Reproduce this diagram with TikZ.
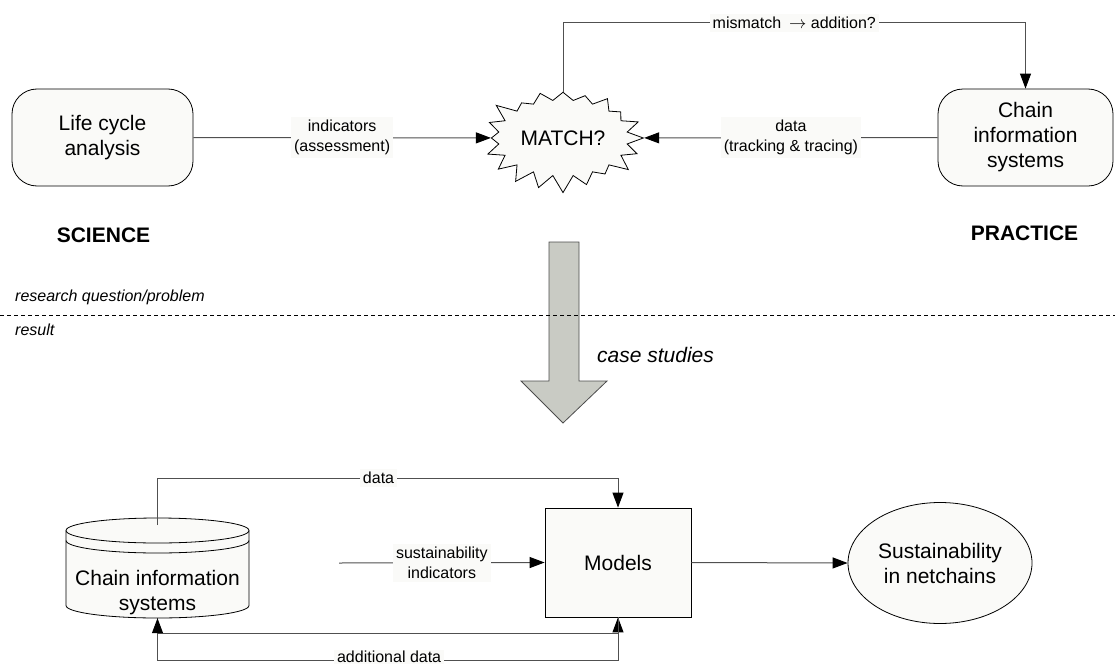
\documentclass[tikz,border=0pt]{standalone}
\usepackage{fontspec}
\setmainfont{Liberation Sans}
\usetikzlibrary{shapes.symbols,shapes.geometric,arrows.meta}
\definecolor{nfill}{RGB}{250,250,248}
\definecolor{arrfill}{RGB}{201,203,196}
\definecolor{lcol}{RGB}{80,80,80}
\begin{document}
\begin{tikzpicture}[x=1pt,y=-1pt,
  box/.style={draw=black, fill=nfill, line width=0.8pt, align=center, font=\fontsize{21}{25}\selectfont, inner sep=0pt},
  lbl/.style={fill=nfill, align=center, font=\fontsize{16}{20}\selectfont, inner sep=3pt},
  conn/.style={draw=lcol, line width=1pt, -{Triangle[length=15pt,width=11pt,color=black]}},
  plain/.style={font=\fontsize{21}{25}\selectfont, inner sep=0pt},
  note/.style={anchor=west, font=\itshape\fontsize{16}{20}\selectfont, inner sep=0pt}
]
\useasboundingbox (0,0) rectangle (1115,666);
% top row
\node[box, rounded corners=25pt, minimum width=181pt, minimum height=97pt] (lca) at (102.5,137.5) {Life cycle\\analysis};
\node[box, rounded corners=25pt, minimum width=175pt, minimum height=97pt] (cis1) at (1025.5,137.5) {Chain\\information\\systems};
\node[box, starburst, starburst points=20, starburst point height=18pt, random starburst=42, minimum width=166pt, minimum height=112pt] (match) at (563,138) {MATCH?};

\draw[conn] (lca.east) -- node[lbl]{indicators\\(assessment)} (match);
\draw[conn] (cis1.west) -- node[lbl]{data\\(tracking \& tracing)} (match);
\draw[conn] (match.north) -- (match.north |- 0,23) -- node[lbl]{mismatch\enspace$\rightarrow$ addition?} (cis1.north |- 0,23) -- (cis1.north);

\node[plain, font=\bfseries\fontsize{21}{25}\selectfont] (sci) at (103.5,235) {SCIENCE};
\node[plain, font=\bfseries\fontsize{21}{25}\selectfont] (prac) at (1024.5,233) {PRACTICE};

% big arrow
\draw[fill=arrfill, draw=black!70, line width=0.8pt] (549,242) -- (579,242) -- (579,381) -- (607,381) -- (563,423) -- (521,381) -- (549,381) -- cycle;
\node[note, font=\itshape\fontsize{21}{25}\selectfont] (cs) at (597,355) {case studies};

% divider
\draw[line width=0.8pt, dash pattern=on 4pt off 3pt] (0,315) -- (1115,315);
\node[note] (rq) at (15,297) {research question/problem};
\node[note] (res) at (15,330) {result};

% bottom row: cylinder
\draw[line width=0.8pt, fill=nfill] (66,530.5) -- (66,605.5) arc[start angle=180,end angle=360,x radius=91.5pt,y radius=12.5pt] -- (249,530.5) arc[start angle=0,end angle=180,x radius=91.5pt,y radius=12.5pt] -- cycle;
\draw[line width=0.8pt] (66,530.5) arc[start angle=180,end angle=360,x radius=91.5pt,y radius=12.5pt];
\draw[line width=0.8pt] (66,540.5) arc[start angle=180,end angle=360,x radius=91.5pt,y radius=12.5pt];
\node[minimum width=183pt, minimum height=100pt, inner sep=0pt] (cis2) at (157.5,568) {};
\node[plain, align=center] (cis2t) at (157.5,592.5) {Chain information\\systems};

\node[box, minimum width=146pt, minimum height=109pt] (models) at (618,562.5) {Models};
\node[box, ellipse, minimum width=184pt, minimum height=121pt] (sus) at (940,563) {Sustainability\\in netchains};

\coordinate (dstart) at (157.5,525);
\coordinate (sistart) at (339,563);
\draw[conn] (dstart) -- (dstart |- 0,478) -- node[lbl, pos=0.48]{data} (models.north |- 0,478) -- (models.north);
\draw[conn] (sistart) -- node[lbl]{sustainability\\indicators} (models.west);
\draw[conn] (models.east) -- (sus.west);
\draw[conn] (cis2.south) -- (cis2.south |- 0,633) -- (models.south |- 0,633) -- (models.south);
\draw[conn] (models.south) -- (models.south |- 0,660) -- node[lbl, pos=0.497, inner ysep=1pt, yshift=3pt]{additional data} (cis2.south |- 0,660) -- (cis2.south);
\end{tikzpicture}
\end{document}
